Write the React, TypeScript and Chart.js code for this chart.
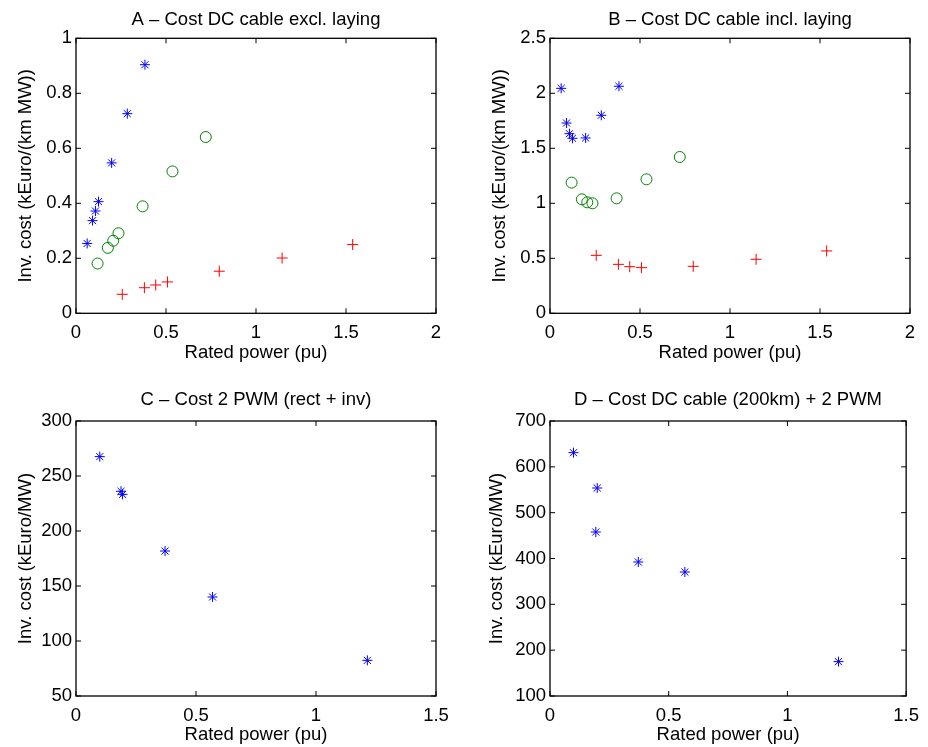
import React, { useEffect, useRef } from 'react';
import { Chart, registerables } from 'chart.js';

Chart.register(...registerables);

const FONT = "'Liberation Sans', Arial, Helvetica, sans-serif";

// ---- Data (rated power in pu, investment cost) ----
const powerBlue = [0.062, 0.092, 0.108, 0.125, 0.198, 0.285, 0.383];
const powerGreen = [0.12, 0.177, 0.207, 0.236, 0.37, 0.536, 0.721];
const powerRed = [0.257, 0.38, 0.443, 0.508, 0.796, 1.145, 1.537];

const costBlueA = [0.254, 0.337, 0.372, 0.406, 0.547, 0.726, 0.904];
const costGreenA = [0.181, 0.238, 0.264, 0.291, 0.389, 0.516, 0.641];
const costRedA = [0.069, 0.093, 0.103, 0.114, 0.153, 0.201, 0.25];

const costBlueB = [2.045, 1.73, 1.633, 1.591, 1.594, 1.8, 2.064];
const costGreenB = [1.188, 1.036, 1.009, 1.0, 1.045, 1.218, 1.421];
const costRedB = [0.527, 0.445, 0.424, 0.415, 0.427, 0.491, 0.567];

const powerC = [0.099, 0.1875, 0.194, 0.371, 0.569, 1.214];
const costC = [267.6, 236.1, 233.3, 181.8, 140, 82.4];

const powerD = [0.099, 0.199, 0.193, 0.372, 0.568, 1.215];
const costD = [630.9, 553.8, 457.8, 392.4, 370.5, 175];

// ---- Tick values ----
const xTicksAB = [0, 0.5, 1, 1.5, 2];
const yTicksA = [0, 0.2, 0.4, 0.6, 0.8, 1];
const yTicksB = [0, 0.5, 1, 1.5, 2, 2.5];
const xTicksCD = [0, 0.5, 1, 1.5];
const yTicksC = [50, 100, 150, 200, 250, 300];
const yTicksD = [100, 200, 300, 400, 500, 600, 700];

const titles = [
  'A \u2013 Cost DC cable excl. laying',
  'B \u2013 Cost DC cable incl. laying',
  'C \u2013 Cost 2 PWM (rect + inv)',
  'D \u2013 Cost DC cable (200km) + 2 PWM',
];
const xLabel = 'Rated power (pu)';
const yLabelsTop = 'Inv. cost (kEuro/(km MW))';
const yLabelsBottom = 'Inv. cost (kEuro/MW)';

const BLUE = '#0000ff';
const GREEN = '#008000';
const RED = '#ff0000';

type Series = { x: number[]; y: number[]; style: string; color: string; radius: number };

interface PanelCfg {
  title: string;
  yTitle: string;
  xTicks: number[];
  yTicks: number[];
  series: Series[];
  left: number;
  top: number;
  width: number;
  height: number;
  padRight: number;
  padBottom: number;
  titlePad: { top: number; bottom: number };
  yTitlePad: number;
}

const boxPlugin = {
  id: 'matlabBox',
  afterDraw(chart: any) {
    const { ctx, chartArea: a, scales } = chart;
    const L = 5;
    ctx.save();
    ctx.strokeStyle = '#000';
    ctx.lineWidth = 1.3;
    ctx.strokeRect(a.left, a.top, a.right - a.left, a.bottom - a.top);
    ctx.lineWidth = 1;
    ctx.beginPath();
    scales.x.ticks.forEach((t: any) => {
      const px = scales.x.getPixelForValue(t.value);
      ctx.moveTo(px, a.bottom);
      ctx.lineTo(px, a.bottom - L);
      ctx.moveTo(px, a.top);
      ctx.lineTo(px, a.top + L);
    });
    scales.y.ticks.forEach((t: any) => {
      const py = scales.y.getPixelForValue(t.value);
      ctx.moveTo(a.left, py);
      ctx.lineTo(a.left + L, py);
      ctx.moveTo(a.right, py);
      ctx.lineTo(a.right - L, py);
    });
    ctx.stroke();
    ctx.restore();
  },
};

function Panel({ cfg }: { cfg: PanelCfg }) {
  const ref = useRef<HTMLCanvasElement>(null);
  useEffect(() => {
    const font = { family: FONT, size: 18.5, lineHeight: 1.2, weight: 'normal' as const };
    const chart = new Chart(ref.current as HTMLCanvasElement, {
      type: 'scatter',
      data: {
        datasets: cfg.series.map((s) => ({
          data: s.x.map((v, i) => ({ x: v, y: s.y[i] })),
          pointStyle: s.style as any,
          pointRadius: s.radius,
          pointBorderColor: s.color,
          pointBackgroundColor: 'rgba(0,0,0,0)',
          pointBorderWidth: 1,
          showLine: false,
        })),
      },
      options: {
        responsive: false,
        animation: false,
        events: [],
        layout: { padding: { left: 0, top: 0, right: cfg.padRight, bottom: cfg.padBottom } },
        plugins: {
          legend: { display: false },
          tooltip: { enabled: false },
          title: {
            display: true,
            text: cfg.title,
            fullSize: false,
            color: '#000',
            font,
            padding: cfg.titlePad,
          },
        },
        scales: {
          x: {
            type: 'linear',
            min: cfg.xTicks[0],
            max: cfg.xTicks[cfg.xTicks.length - 1],
            grid: { display: false, drawTicks: false },
            border: { display: false },
            ticks: {
              color: '#000',
              font,
              padding: 9,
              maxRotation: 0,
              autoSkip: false,
              callback: (v: any) => String(v),
            },
            afterBuildTicks: (s: any) => {
              s.ticks = cfg.xTicks.map((v) => ({ value: v }));
            },
            afterFit: (s: any) => {
              s.height = 50.5;
            },
            title: { display: true, text: xLabel, color: '#000', font, padding: { top: 0, bottom: 0 } },
          },
          y: {
            type: 'linear',
            min: cfg.yTicks[0],
            max: cfg.yTicks[cfg.yTicks.length - 1],
            grid: { display: false, drawTicks: false },
            border: { display: false },
            ticks: {
              color: '#000',
              font,
              padding: 4,
              autoSkip: false,
              callback: (v: any) => String(v),
            },
            afterBuildTicks: (s: any) => {
              s.ticks = cfg.yTicks.map((v) => ({ value: v }));
            },
            afterFit: (s: any) => {
              s.width = 76;
            },
            title: {
              display: true,
              text: cfg.yTitle,
              color: '#000',
              font,
              padding: { top: cfg.yTitlePad, bottom: 0 },
            },
          },
        },
      },
      plugins: [boxPlugin],
    } as any);
    return () => chart.destroy();
  }, []);
  return (
    <canvas
      ref={ref}
      width={cfg.width}
      height={cfg.height}
      style={{ position: 'absolute', left: cfg.left, top: cfg.top, width: cfg.width, height: cfg.height }}
    />
  );
}

const star = (x: number[], y: number[]): Series => ({ x, y, style: 'star', color: BLUE, radius: 5 });
const circ = (x: number[], y: number[]): Series => ({ x, y, style: 'circle', color: GREEN, radius: 5.5 });
const plus = (x: number[], y: number[]): Series => ({ x, y, style: 'cross', color: RED, radius: 5.5 });

const panels: PanelCfg[] = [
  {
    title: titles[0],
    yTitle: yLabelsTop,
    xTicks: xTicksAB,
    yTicks: yTicksA,
    series: [star(powerBlue, costBlueA), circ(powerGreen, costGreenA), plus(powerRed, costRedA)],
    left: 0,
    top: 0,
    width: 464,
    height: 373,
    padRight: 28,
    padBottom: 9.2,
    titlePad: { top: 9, bottom: 7.1 },
    yTitlePad: 15,
  },
  {
    title: titles[1],
    yTitle: yLabelsTop,
    xTicks: xTicksAB,
    yTicks: yTicksB,
    series: [star(powerBlue, costBlueB), circ(powerGreen, costGreenB), plus(powerRed, costRedB)],
    left: 474,
    top: 0,
    width: 454,
    height: 373,
    padRight: 18,
    padBottom: 9.2,
    titlePad: { top: 9, bottom: 7.1 },
    yTitlePad: 15,
  },
  {
    title: titles[2],
    yTitle: yLabelsBottom,
    xTicks: xTicksCD,
    yTicks: yTicksC,
    series: [star(powerC, costC)],
    left: 0,
    top: 383,
    width: 464,
    height: 364,
    padRight: 28,
    padBottom: 0.5,
    titlePad: { top: 6, bottom: 9.8 },
    yTitlePad: 15,
  },
  {
    title: titles[3],
    yTitle: yLabelsBottom,
    xTicks: xTicksCD,
    yTicks: yTicksD,
    series: [star(powerD, costD)],
    left: 474,
    top: 383,
    width: 454,
    height: 364,
    padRight: 18,
    padBottom: 0.5,
    titlePad: { top: 6, bottom: 9.8 },
    yTitlePad: 12,
  },
];

export default function App() {
  return (
    <div style={{ position: 'absolute', left: 0, top: 0, width: 928, height: 747, background: '#fff' }}>
      {panels.map((p, i) => (
        <Panel key={i} cfg={p} />
      ))}
    </div>
  );
}
